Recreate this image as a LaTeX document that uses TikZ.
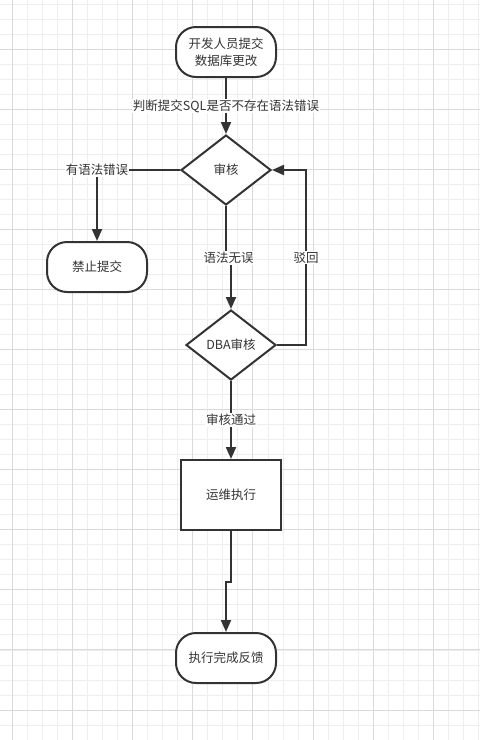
\documentclass[tikz,border=0pt]{standalone}
\usepackage{fontspec}
\setmainfont{Noto Sans CJK SC}
\usepackage{xcolor}
\usetikzlibrary{shapes.geometric,arrows.meta,positioning}
\definecolor{LineGray}{RGB}{51,51,51}
\definecolor{GridMinor}{RGB}{238,238,238}
\definecolor{GridMajor}{RGB}{218,218,218}
\tikzset{
  tbox/.style={draw=LineGray,fill=white,rounded corners=20pt,
               minimum width=100pt,minimum height=50pt,
               font=\fontsize{12.5}{17.5}\selectfont,text=LineGray,
               align=center,line width=2pt},
  rbox/.style={draw=LineGray,fill=white,
               minimum width=100pt,minimum height=70pt,
               font=\fontsize{12.5}{15}\selectfont,text=LineGray,line width=2pt},
  dbox/.style={draw=LineGray,fill=white,diamond,aspect=1.29,inner sep=0pt,
               minimum width=90pt,minimum height=70pt,
               font=\fontsize{12.5}{15}\selectfont,text=LineGray,line width=2pt},
  lbl/.style={fill=white,inner sep=1pt,text=LineGray,
              font=\fontsize{12.5}{15}\selectfont},
  arr/.style={-{Triangle[length=12pt,width=10pt]},LineGray,line width=2pt},
  gridminor/.style={GridMinor,line width=0.7pt},
  gridmajor/.style={GridMajor,line width=0.7pt},
}
\begin{document}
\begin{tikzpicture}[x=1pt,y=-1pt]
  \useasboundingbox (0,0) rectangle (480,740);
  % background grid
  \foreach \i in {0,...,31} \draw[gridminor] ({12+15.05*\i},0) -- ++(0,740);
  \foreach \i in {0,...,49} \draw[gridminor] (0,{4+15.02*\i}) -- ++(480,0);
  \foreach \i in {0,...,7} \draw[gridmajor] ({12+60.2*\i},0) -- ++(0,740);
  \foreach \i in {0,...,11} \draw[gridmajor] (0,{49+60.08*\i}) -- ++(480,0);

  \node[tbox] (submit) at (226,52) {开发人员提交\\数据库更改};
  \node[dbox] (review) at (226,170) {审核};
  \node[tbox] (forbid) at (97,267) {禁止提交};
  \node[dbox] (dba) at (231,345) {DBA审核};
  \node[rbox] (ops) at (231,495) {运维执行};
  \node[tbox] (done) at (226,658) {执行完成反馈};

  \coordinate (j1) at (228.5,258);
  \coordinate (j2) at (228.5,582);

  \draw[arr] (submit) -- node[lbl] {判断提交SQL是否不存在语法错误} (review);
  \draw[arr] (review.west) -| node[lbl] {有语法错误} (forbid.north);
  \draw[arr] (review.south) |- (j1) -| (dba.north);
  \node[lbl] at (j1) {语法无误};
  \draw[arr] (dba.east) -- ++(29,0) |- node[lbl,pos=0.25] {驳回} (review.east);
  \draw[arr] (dba.south) -- node[lbl] {审核通过} (ops.north);
  \draw[arr] (ops.south) |- (j2) -| (done.north);
\end{tikzpicture}
\end{document}
